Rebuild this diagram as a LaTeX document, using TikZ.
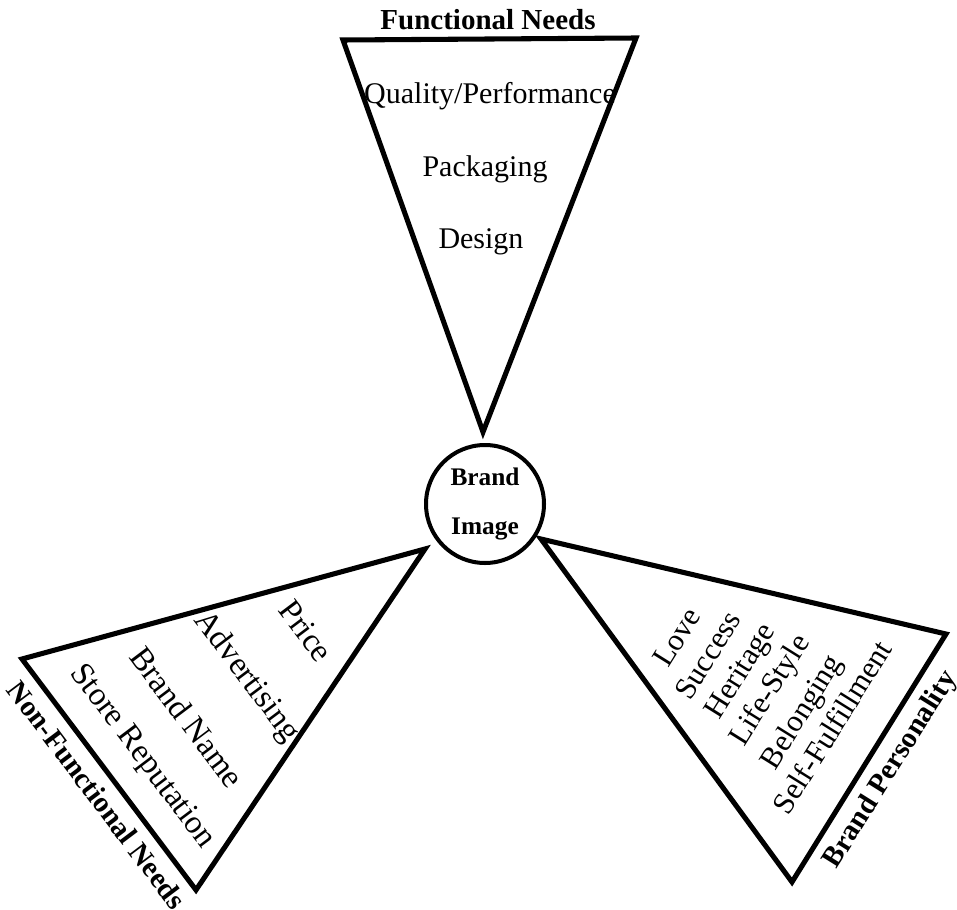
\documentclass[tikz,border=0pt]{standalone}
\usepackage{fontspec}
\setmainfont{Liberation Serif}
\begin{document}
\begin{tikzpicture}[x=0.75pt,y=-0.75pt,
  wedge/.style={draw=black,line width=3.8pt,line join=miter},
  itemtext/.style={inner sep=0pt,font=\fontsize{22.5}{27}\selectfont},
  lefttext/.style={inner sep=0pt,rotate=-53,font=\fontsize{24.5}{29}\selectfont},
  righttext/.style={inner sep=0pt,rotate=58,font=\fontsize{23}{27}\selectfont},
  headtext/.style={inner sep=0pt,font=\bfseries\fontsize{21.75}{26}\selectfont},
  hub/.style={circle,draw=black,line width=3pt,minimum size=88.5pt,inner sep=0pt,
    align=center,font=\bfseries\fontsize{19}{36.5}\selectfont}]
\useasboundingbox (0,0) rectangle (957,910);

% central circle
\node[hub] (hub) at (485,504) {Brand\\Image};

% the three wedges pointing at the hub
\coordinate (ta) at (343,40);  \coordinate (tb) at (636,38);  \coordinate (tc) at (483,432);
\coordinate (la) at (425,549); \coordinate (lb) at (22,659);  \coordinate (lc) at (196,890);
\coordinate (ra) at (541,539); \coordinate (rb) at (946,634); \coordinate (rc) at (792,882);
\draw[wedge] (ta) -- (tb) -- (tc) -- cycle;
\draw[wedge] (la) -- (lb) -- (lc) -- cycle;
\draw[wedge] (ra) -- (rb) -- (rc) -- cycle;

% functional needs
\node[headtext] (fn) at (488,20) {Functional Needs};
\node[itemtext] (q) at (490,96) {Quality/Performance};
\node[itemtext] (p) at (485,169) {Packaging};
\node[itemtext] (d) at (481,242) {Design};

% non-functional needs
\node[headtext,rotate=-53] (nfn) at (97,795) {Non-Functional Needs};
\node[lefttext] (sr) at (142,757) {Store Reputation};
\node[lefttext] (bn) at (187,717) {Brand Name};
\node[lefttext] (adv) at (246,677) {Advertising};
\node[lefttext] (pr) at (306,631) {Price};

% brand personality
\node[headtext,rotate=58] (bp) at (891,770) {Brand Personality};
\node[righttext] (lv) at (677,637) {Love};
\node[righttext] (sc) at (708,655) {Success};
\node[righttext] (her) at (742,672) {Heritage};
\node[righttext] (ls) at (771,691) {Life-Style};
\node[righttext] (bl) at (803,713) {Belonging};
\node[righttext] (sf) at (832,727) {Self-Fulfillment};
\end{tikzpicture}
\end{document}
